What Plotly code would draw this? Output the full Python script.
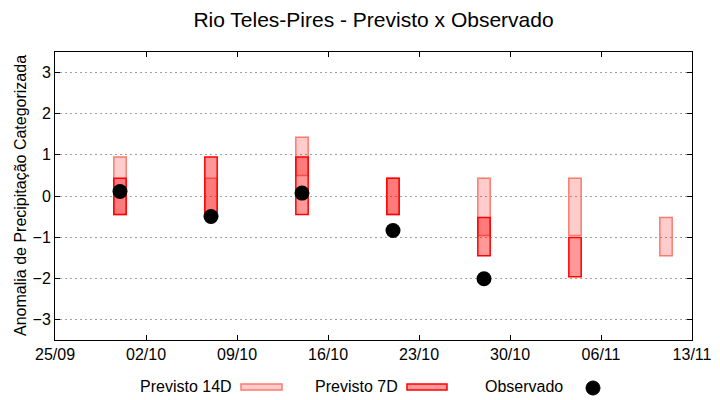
import plotly.graph_objects as go

# ---- data ----
dates = ["2023-09-30", "2023-10-07", "2023-10-14", "2023-10-21",
         "2023-10-28", "2023-11-04", "2023-11-11"]
p14_low  = [-0.45, -0.45, 0.50, -0.45, -0.96, -0.96, -1.45]
p14_high = [0.95, 0.43, 1.43, 0.43, 0.43, 0.43, -0.52]
p7_low   = [-0.45, -0.45, -0.45, -0.45, -1.45, -1.96, None]
p7_high  = [0.43, 0.95, 0.95, 0.43, -0.52, -1.01, None]
obs_dates = ["2023-09-30", "2023-10-07", "2023-10-14", "2023-10-21", "2023-10-28"]
obs_vals  = [0.11, -0.50, 0.07, -0.84, -2.01]
tick_dates = ["2023-09-25", "2023-10-02", "2023-10-09", "2023-10-16",
              "2023-10-23", "2023-10-30", "2023-11-06", "2023-11-13"]
tick_labels = ["25/09", "02/10", "09/10", "16/10", "23/10", "30/10", "06/11", "13/11"]
y_ticks = [-3, -2, -1, 0, 1, 2, 3]

DAY = 86400000
FONT = "Liberation Sans, Arial, sans-serif"

c14_fill = "rgba(255,0,0,0.2)"
c14_line = "#fa7a6e"
c7_fill = "rgba(255,0,0,0.4)"
c7_line = "#ff0000"

# page offset (browser body margin)
OFF = 8
WIN_W, WIN_H = 720, 400
W, H = WIN_W - OFF, WIN_H - OFF
# plot area in window pixels
PX0, PX1, PY0, PY1 = 55, 692, 52, 340
L, R = PX0 - OFF, WIN_W - PX1
T, B = PY0 - OFF, WIN_H - PY1
pw, ph = PX1 - PX0, PY1 - PY0

def px(x):
    return (x - PX0) / pw

def py(y):
    return (PY1 - y) / ph

fig = go.Figure()

fig.add_trace(go.Bar(
    x=dates,
    y=[h - l for h, l in zip(p14_high, p14_low)],
    base=p14_low,
    width=[0.95 * DAY] * len(dates),
    marker=dict(color=c14_fill, line=dict(color=c14_line, width=1.5)),
    name="Previsto 14D", showlegend=False, hoverinfo="skip",
))

d7 = [d for d, v in zip(dates, p7_low) if v is not None]
l7 = [v for v in p7_low if v is not None]
h7 = [v for v in p7_high if v is not None]
fig.add_trace(go.Bar(
    x=d7,
    y=[h - l for h, l in zip(h7, l7)],
    base=l7,
    width=[0.95 * DAY] * len(d7),
    marker=dict(color=c7_fill, line=dict(color=c7_line, width=1.5)),
    name="Previsto 7D", showlegend=False, hoverinfo="skip",
))

fig.add_trace(go.Scatter(
    x=obs_dates, y=obs_vals, mode="markers",
    marker=dict(color="black", size=15, symbol="circle"),
    name="Observado", showlegend=False,
))

annotations = [
    dict(text="Previsto 14D", x=px(234), y=py(386), xref="paper", yref="paper",
         xanchor="right", yanchor="middle", showarrow=False,
         font=dict(family=FONT, size=16, color="black")),
    dict(text="Previsto 7D", x=px(400), y=py(386), xref="paper", yref="paper",
         xanchor="right", yanchor="middle", showarrow=False,
         font=dict(family=FONT, size=16, color="black")),
    dict(text="Observado", x=px(565), y=py(386), xref="paper", yref="paper",
         xanchor="right", yanchor="middle", showarrow=False,
         font=dict(family=FONT, size=16, color="black")),
    dict(text="Anomalia de Precipitação Categorizada", x=px(20), y=py(196),
         xref="paper", yref="paper", xanchor="center", yanchor="middle",
         textangle=-90, showarrow=False,
         font=dict(family=FONT, size=16, color="black")),
]
shapes = [
    dict(type="rect", xref="paper", yref="paper",
         x0=px(241), x1=px(282), y0=py(390), y1=py(384),
         fillcolor=c14_fill, line=dict(color=c14_line, width=1.5)),
    dict(type="rect", xref="paper", yref="paper",
         x0=px(407), x1=px(447), y0=py(390), y1=py(384),
         fillcolor=c7_fill, line=dict(color=c7_line, width=1.5)),
    dict(type="circle", xref="paper", yref="paper",
         x0=px(586), x1=px(600), y0=py(395), y1=py(381),
         fillcolor="black", line=dict(color="black", width=1)),
]

fig.update_layout(
    width=W, height=H,
    margin=dict(l=L, r=R, t=T, b=B, autoexpand=False),
    paper_bgcolor="white", plot_bgcolor="white",
    barmode="overlay",
    font=dict(family=FONT, size=16, color="black"),
    title=dict(text="Rio Teles-Pires - Previsto x Observado",
               x=(PX0 + pw / 2 - OFF) / W, xanchor="center",
               y=1 - (20 - OFF) / H, yanchor="middle",
               font=dict(family=FONT, size=21, color="black")),
    xaxis=dict(type="date", range=["2023-09-25", "2023-11-13"],
               tickmode="array", tickvals=tick_dates, ticktext=tick_labels,
               ticks="inside", ticklen=5, tickcolor="black",
               showline=True, linecolor="black", linewidth=1, mirror="ticks",
               showgrid=False, zeroline=False, automargin=False,
               tickfont=dict(family=FONT, size=16, color="black")),
    yaxis=dict(range=[-3.5, 3.5], tickmode="array", tickvals=y_ticks,
               ticks="inside", ticklen=5, tickcolor="black",
               showline=True, linecolor="black", linewidth=1, mirror="ticks",
               showgrid=True, gridcolor="#a0a0a0", griddash="2px,3px", gridwidth=1,
               zeroline=False, automargin=False,
               tickfont=dict(family=FONT, size=16, color="black")),
    annotations=annotations,
    shapes=shapes,
)

fig.write_html("out.html")
